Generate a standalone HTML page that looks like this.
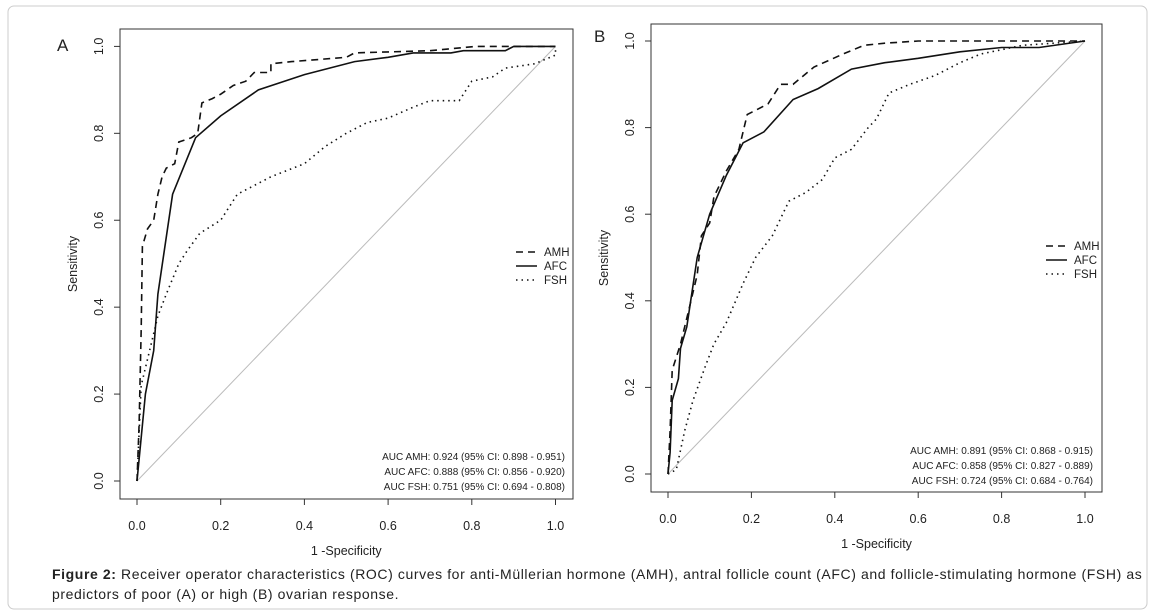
<!DOCTYPE html>
<html><head><meta charset="utf-8">
<style>
body{margin:0;background:#fff;width:1155px;height:614px;overflow:hidden;font-family:"Liberation Sans",sans-serif}
svg text{font-family:"Liberation Sans",sans-serif;fill:#222}
#cap{position:absolute;left:52px;top:564px;width:1095px;font-size:14px;line-height:20px;color:#222;white-space:nowrap;letter-spacing:0.6px}
</style></head>
<body>
<svg id="chart" width="1155" height="614" style="position:absolute;left:0;top:0">
<rect x="8" y="6" width="1139" height="603" rx="6" fill="none" stroke="#ccc" stroke-width="1"/>
</svg>
<div id="cap"><b>Figure 2:</b> Receiver operator characteristics (ROC) curves for anti-Müllerian hormone (AMH), antral follicle count (AFC) and follicle-stimulating hormone (FSH) as<br>predictors of poor (A) or high (B) ovarian response.</div>
<script>
const ticks=[0,0.2,0.4,0.6,0.8,1.0];
const tickLabels=["0.0","0.2","0.4","0.6","0.8","1.0"];
const seriesNames=["AMH","AFC","FSH"];
const aAmhX=[0,0.005,0.01,0.013,0.025,0.04,0.05,0.06,0.07,0.09,0.1,0.13,0.145,0.155,0.18,0.2,0.23,0.26,0.28,0.32,0.32,0.37,0.5,0.52,0.7,0.81,1];
const aAmhY=[0,0.13,0.35,0.54,0.58,0.6,0.66,0.7,0.72,0.73,0.78,0.79,0.8,0.87,0.88,0.89,0.91,0.92,0.94,0.94,0.96,0.965,0.975,0.985,0.99,1,1];
const aAfcX=[0,0.01,0.02,0.04,0.05,0.085,0.14,0.2,0.29,0.4,0.46,0.52,0.6,0.66,0.75,0.78,0.88,0.9,1];
const aAfcY=[0,0.1,0.2,0.3,0.43,0.66,0.79,0.84,0.9,0.935,0.95,0.965,0.975,0.985,0.985,0.99,0.99,1,1];
const aFshX=[0,0.01,0.03,0.05,0.07,0.1,0.12,0.15,0.2,0.24,0.28,0.32,0.4,0.45,0.5,0.55,0.6,0.66,0.7,0.77,0.8,0.85,0.88,0.95,1,1];
const aFshY=[0,0.22,0.3,0.38,0.43,0.5,0.53,0.57,0.6,0.66,0.68,0.7,0.73,0.77,0.8,0.825,0.835,0.86,0.875,0.875,0.92,0.93,0.95,0.96,0.98,1];
const bAmhX=[0,0.005,0.01,0.03,0.05,0.07,0.08,0.1,0.11,0.14,0.17,0.19,0.21,0.24,0.27,0.3,0.35,0.42,0.47,0.52,0.6,1];
const bAmhY=[0,0.1,0.24,0.3,0.38,0.46,0.55,0.58,0.64,0.7,0.75,0.83,0.84,0.855,0.9,0.9,0.94,0.97,0.99,0.995,1,1];
const bAfcX=[0,0.005,0.01,0.025,0.03,0.045,0.07,0.1,0.14,0.18,0.23,0.3,0.36,0.44,0.52,0.6,0.7,0.8,0.89,1];
const bAfcY=[0,0.05,0.17,0.22,0.29,0.34,0.5,0.6,0.69,0.765,0.79,0.865,0.89,0.935,0.95,0.96,0.975,0.985,0.985,1];
const bFshX=[0,0.02,0.04,0.06,0.09,0.11,0.14,0.18,0.21,0.25,0.29,0.33,0.37,0.4,0.44,0.48,0.5,0.53,0.58,0.64,0.7,0.75,0.8,0.85,1];
const bFshY=[0,0.01,0.1,0.17,0.25,0.3,0.35,0.44,0.5,0.55,0.63,0.65,0.68,0.73,0.75,0.8,0.82,0.88,0.9,0.92,0.95,0.97,0.98,0.99,1];
const aucA=["AUC AMH: 0.924 (95% CI: 0.898 - 0.951)","AUC AFC: 0.888 (95% CI: 0.856 - 0.920)","AUC FSH: 0.751 (95% CI: 0.694 - 0.808)"];
const aucB=["AUC AMH: 0.891 (95% CI: 0.868 - 0.915)","AUC AFC: 0.858 (95% CI: 0.827 - 0.889)","AUC FSH: 0.724 (95% CI: 0.684 - 0.764)"];

const NS="http://www.w3.org/2000/svg";
const svg=document.getElementById('chart');
function mk(tag,attrs,parent,txt){const e=document.createElementNS(NS,tag);for(const k in attrs)e.setAttribute(k,attrs[k]);if(txt!==undefined)e.textContent=txt;(parent||svg).appendChild(e);return e;}
const dashes=["7,5","","1.5,4"];

function panel(p){
  const g=mk('g',{});
  
  
  const sx=v=>p.x0+v*(p.x1-p.x0), sy=v=>p.y0+v*(p.y1-p.y0);
  const fr=mk('rect',{x:p.fl,y:p.ft,width:p.fr-p.fl,height:p.fb-p.ft,fill:'none',stroke:'#333','stroke-width':1},g);
  
  const dg=mk('line',{x1:sx(0),y1:sy(0),x2:sx(1),y2:sy(1),stroke:'#bbb','stroke-width':1},g);
  
  ticks.forEach((t,i)=>{
    mk('line',{x1:sx(t),y1:p.fb,x2:sx(t),y2:p.fb+6,stroke:'#333'},g);
    const xl=mk('text',{x:sx(t),y:p.fb+31,'text-anchor':'middle','font-size':12.5},g,tickLabels[i]);
    
    mk('line',{x1:p.fl,y1:sy(t),x2:p.fl-6,y2:sy(t),stroke:'#333'},g);
    const yl=mk('text',{x:0,y:0,'text-anchor':'middle','font-size':12.5,transform:`translate(${p.fl-17},${sy(t)}) rotate(-90)`},g,tickLabels[i]);
    
  });
  const xt=mk('text',{x:(p.x0+p.x1)/2,y:p.fb+56,'text-anchor':'middle','font-size':12.5},g,'1 -Specificity');
  
  const yt=mk('text',{x:0,y:0,'text-anchor':'middle','font-size':12.5,transform:`translate(${p.fl-43},${(p.ft+p.fb)/2}) rotate(-90)`},g,'Sensitivity');
  
  const lb=mk('text',{x:p.lx,y:p.ly,'font-size':17,'font-family':'Liberation Sans Narrow, Liberation Sans, sans-serif'},g,p.id);
  
  p.series.forEach((s,k)=>{
    const pts=s[0].map((x,i)=>sx(x).toFixed(1)+','+sy(s[1][i]).toFixed(1)).join(' ');
    const pl=mk('polyline',{points:pts,fill:'none',stroke:'#111','stroke-width':1.6,'stroke-dasharray':dashes[k]},g);
    
    
    const ly=p.legY+k*14;
    const ll=mk('line',{x1:p.legX,y1:ly,x2:p.legX+21,y2:ly,stroke:'#111','stroke-width':1.6,'stroke-dasharray':dashes[k]},g);
    
    const lt=mk('text',{x:p.legX+28,y:ly+4,'font-size':11.5},g,seriesNames[k]);
    
    const at=mk('text',{x:p.aucX,y:p.aucY+k*15,'text-anchor':'end','font-size':10},g,p.auc[k]);
    
  });
}
panel({id:'A',fl:120,fr:573,ft:29,fb:499,x0:137,x1:555.5,y0:481,y1:46.4,lx:57,ly:51,legX:516,legY:252,aucX:565,aucY:460,auc:aucA,
  series:[[aAmhX,aAmhY],[aAfcX,aAfcY],[aFshX,aFshY]]});
panel({id:'B',fl:651,fr:1102,ft:24,fb:492,x0:668,x1:1085,y0:474,y1:41,lx:594,ly:42,legX:1046,legY:246,aucX:1093,aucY:454,auc:aucB,
  series:[[bAmhX,bAmhY],[bAfcX,bAfcY],[bFshX,bFshY]]});
</script>
</body></html>
